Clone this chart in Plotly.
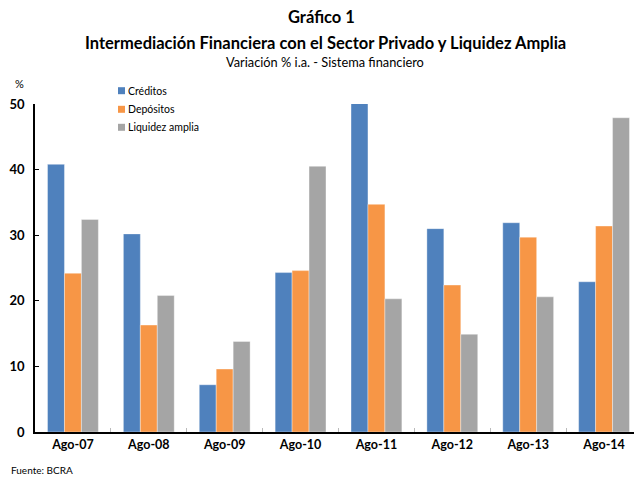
import plotly.graph_objects as go

categories = ["Ago-07", "Ago-08", "Ago-09", "Ago-10", "Ago-11", "Ago-12", "Ago-13", "Ago-14"]
creditos = [40.8, 30.2, 7.2, 24.3, 50.1, 31.0, 31.9, 22.9]
depositos = [24.2, 16.3, 9.6, 24.6, 34.7, 22.4, 29.7, 31.4]
liquidez = [32.4, 20.8, 13.8, 40.5, 20.3, 14.9, 20.6, 47.9]
series_names = ["Créditos", "Depósitos", "Liquidez amplia"]
y_ticks = [0, 10, 20, 30, 40, 50]

colors = ["#4F81BD", "#F79646", "#A5A5A5"]
FONT = "Lato, 'Open Sans', sans-serif"

# page has an 8px body margin; work in reference-pixel coordinates
OFF = 8
W, H = 642 - OFF, 477 - OFF
L, T, B, R = 35 - OFF, 104 - OFF, 477 - 432, 0
plot_h = H - T - B
plot_w = W - L - R

def py(ref_y):
    return (432 - ref_y) / plot_h

def pxx(ref_x):
    return (ref_x - 35) / plot_w

fig = go.Figure()
for name, vals, c in zip(series_names, [creditos, depositos, liquidez], colors):
    fig.add_trace(go.Bar(x=categories, y=vals, name=name, showlegend=False,
                         marker=dict(color=c, line=dict(width=0.6, color="rgba(255,255,255,0.6)"))))

annotations = [
    dict(text="<b>Gráfico 1</b>", x=pxx(321), y=py(17), size=16.5, xanchor="center"),
    dict(text="<b>Intermediación Financiera con el Sector Privado y Liquidez Amplia</b>", x=pxx(325), y=py(43), size=16.5, xanchor="center"),
    dict(text="Variación % i.a. - Sistema financiero", x=pxx(325), y=py(62), size=12.8, xanchor="center"),
    dict(text="%", x=pxx(19), y=py(83), size=11, xanchor="center"),
    dict(text="Fuente: BCRA", x=pxx(9), y=py(470), size=10, xanchor="left"),
]

# legend (drawn as key squares + real text)
shapes = []
legend_rows = [90.7, 109.3, 127.3]
for name, c, ry in zip(series_names, colors, legend_rows):
    shapes.append(dict(type="rect", xref="paper", yref="paper",
                       x0=pxx(118), x1=pxx(125), y0=py(ry + 3.5), y1=py(ry - 3.5),
                       fillcolor=c, line=dict(width=0)))
    annotations.append(dict(text=name, x=pxx(126), y=py(ry), size=10.5, xanchor="left"))

fig.update_layout(
    width=W, height=H,
    margin=dict(l=L, r=R, t=T, b=B, autoexpand=False),
    paper_bgcolor="white", plot_bgcolor="white",
    barmode="group", bargap=0.33, bargroupgap=0,
    font=dict(family=FONT, color="black"),
    showlegend=False,
    xaxis=dict(showline=True, linecolor="black", linewidth=1.5,
               ticks="inside", tickson="boundaries", ticklen=4, tickcolor="#BBBBBB",
               tickfont=dict(size=12.5, family=FONT, weight="bold"), showgrid=False),
    yaxis=dict(range=[0, 50], tickvals=y_ticks, showline=True, linecolor="black", linewidth=1.5,
               ticks="inside", ticklen=4, tickcolor="black", showgrid=False, zeroline=False,
               ticklabelstandoff=6,
               tickfont=dict(size=13, family=FONT, weight="bold")),
    shapes=shapes,
    annotations=[dict(text=a["text"], x=a["x"], y=a["y"], xref="paper", yref="paper",
                      xanchor=a["xanchor"], yanchor="middle", showarrow=False,
                      font=dict(size=a["size"], family=FONT, color="black")) for a in annotations],
)

fig.write_html("out.html")
